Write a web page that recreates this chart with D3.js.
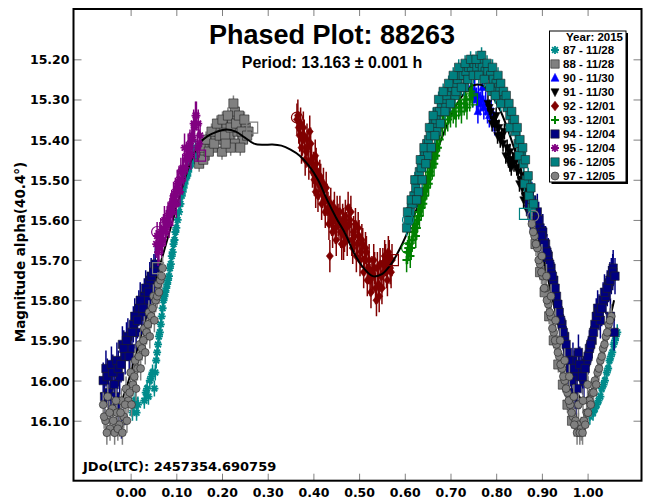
<!DOCTYPE html>
<html lang="en">
<head>
<meta charset="UTF-8">
<title>Phased Plot: 88263</title>
<script src="https://d3js.org/d3.v7.min.js"></script>
<style>
  body { margin: 0; background: #fff; }
  .axis text { font-family: "DejaVu Sans", sans-serif; font-weight: bold; font-size: 12.5px; fill: #000; }
  .axis line { stroke: #808080; }
  .legend_text { font-family: "Liberation Sans", Arial, sans-serif; font-weight: bold; font-size: 11.5px; }
</style>
</head>
<body>
<svg width="648" height="500"></svg>
<script>
// ---- data: [phase, magnitude] ----
const s87 = [[0.004,16.08],[0.010,16.05],[0.016,16.06],[0.030,16.05],[0.036,16.02],[0.042,16.00],[0.048,15.98],[0.052,16.02],
  [0.056,15.95],[0.060,15.91],[0.064,15.88],[0.068,15.84],[0.072,15.80],[0.076,15.78],[0.080,15.76],[0.084,15.74],[0.088,15.71],
  [0.092,15.68],[0.096,15.65],[0.100,15.62],[0.106,15.58],[0.112,15.54],[0.116,15.52],[0.120,15.50],[0.124,15.49],[0.128,15.47],
  [0.132,15.46],[0.136,15.45],[0.140,15.44],[0.144,15.43],[0.148,15.43],
  [1.005,16.09],[1.012,16.08],[1.020,16.06],[1.028,16.04],[1.035,16.01],[1.042,15.98],[1.048,15.95],[1.054,15.93],[1.060,15.90],[1.065,15.88]];
const s87b = [[0.007,16.06],[0.013,16.08],[0.033,16.03],[0.039,16.04],[0.045,15.99],[0.054,15.98],[0.058,15.93],[0.062,15.89],
  [0.066,15.86],[0.070,15.82],[0.074,15.79],[0.078,15.77],[0.082,15.75],[0.086,15.72],[0.090,15.69],[0.094,15.66],[0.098,15.63],
  [0.103,15.60],[0.109,15.56],[0.114,15.53],[0.118,15.51],[0.122,15.49],[0.126,15.48],[0.130,15.46],[0.134,15.45],[0.138,15.44],
  [0.142,15.42],[1.008,16.07],[1.016,16.07],[1.024,16.05],[1.031,16.02],[1.038,16.00],[1.045,15.97],[1.051,15.94],[1.057,15.91],[1.062,15.89]];
const s88 = [[0.150,15.46],[0.156,15.43],[0.162,15.44],[0.168,15.41],[0.174,15.40],[0.180,15.42],[0.186,15.39],[0.192,15.38],
  [0.198,15.40],[0.204,15.37],[0.210,15.36],[0.216,15.39],[0.222,15.35],[0.228,15.33],[0.234,15.38],[0.240,15.36],[0.246,15.40],
  [0.252,15.37],[0.258,15.38],[0.228,15.41],[0.240,15.42],[0.200,15.43],
  [0.886,15.66],[0.896,15.73],[0.906,15.78],[0.916,15.84],[0.926,15.90],[0.936,15.96],[0.946,16.01],[0.956,16.06],[0.966,16.10]];
const s88b = [[0.153,15.42],[0.159,15.45],[0.165,15.40],[0.171,15.43],[0.177,15.38],[0.183,15.41],[0.189,15.36],[0.195,15.39],
  [0.201,15.35],[0.207,15.39],[0.213,15.34],[0.219,15.37],[0.225,15.31],[0.231,15.36],[0.237,15.34],[0.243,15.38],[0.249,15.35],
  [0.255,15.39],[0.219,15.42],[0.208,15.41]];
const s90 = [[0.745,15.27],[0.749,15.29],[0.753,15.28],[0.757,15.30],[0.761,15.29],[0.765,15.31],[0.769,15.30],[0.773,15.32],
  [0.777,15.31],[0.781,15.33],[0.785,15.34],[0.789,15.33],[0.793,15.35],[0.797,15.36],[0.760,15.33],[0.770,15.27]];
const s91 = [[0.782,15.31],[0.788,15.33],[0.794,15.35],[0.800,15.34],[0.806,15.37],[0.812,15.39],[0.818,15.38],[0.824,15.42],
  [0.830,15.43],[0.836,15.45],[0.842,15.44],[0.848,15.48],[0.854,15.50],[0.860,15.49],[0.866,15.53],[0.872,15.55],[0.878,15.57],
  [0.884,15.60],[0.890,15.62],[0.896,15.65],[0.815,15.41],[0.845,15.47],[0.870,15.58]];
const s91b = [[0.785,15.32],[0.791,15.36],[0.797,15.36],[0.803,15.39],[0.809,15.40],[0.821,15.44],[0.827,15.45],[0.833,15.47],
  [0.839,15.46],[0.851,15.51],[0.857,15.52],[0.863,15.54],[0.869,15.57],[0.875,15.59],[0.881,15.62],[0.887,15.64],[0.893,15.67],
  [0.800,15.36],[0.830,15.46],[0.860,15.55]];
const s92 = [[0.364,15.35],[0.368,15.37],[0.372,15.36],[0.376,15.40],[0.380,15.39],[0.384,15.43],[0.388,15.42],[0.392,15.38],
  [0.396,15.45],[0.400,15.47],[0.404,15.44],[0.408,15.48],[0.412,15.51],[0.416,15.50],[0.420,15.53],[0.424,15.55],[0.428,15.52],
  [0.432,15.57],[0.436,15.58],[0.440,15.60],[0.444,15.59],[0.448,15.62],[0.452,15.58],[0.456,15.61],[0.460,15.63],[0.464,15.60],
  [0.468,15.64],[0.472,15.62],[0.476,15.57],[0.480,15.60],[0.484,15.65],[0.488,15.63],[0.492,15.61],[0.496,15.66],[0.500,15.64],
  [0.504,15.68],[0.508,15.66],[0.512,15.70],[0.516,15.68],[0.520,15.72],[0.524,15.75],[0.528,15.73],[0.532,15.70],[0.536,15.77],
  [0.540,15.72],[0.544,15.79],[0.548,15.74],[0.552,15.71],[0.556,15.69],[0.560,15.73],[0.564,15.68],[0.568,15.72],[0.572,15.70],
  [0.405,15.53],[0.436,15.69],[0.466,15.66]];
const s92b = [[0.366,15.34],[0.370,15.39],[0.374,15.42],[0.378,15.37],[0.382,15.45],[0.386,15.40],[0.390,15.46],[0.394,15.41],
  [0.398,15.48],[0.402,15.50],[0.406,15.46],[0.410,15.54],[0.414,15.49],[0.418,15.56],[0.422,15.51],[0.426,15.58],[0.430,15.55],
  [0.434,15.61],[0.438,15.56],[0.442,15.63],[0.446,15.57],[0.450,15.65],[0.454,15.60],[0.458,15.58],[0.462,15.66],[0.466,15.61],
  [0.470,15.59],[0.474,15.65],[0.478,15.61],[0.482,15.58],[0.486,15.67],[0.490,15.64],[0.494,15.69],[0.498,15.62],[0.502,15.70],
  [0.506,15.65],[0.510,15.73],[0.514,15.67],[0.518,15.75],[0.522,15.70],[0.526,15.78],[0.530,15.74],[0.534,15.72],[0.538,15.80],
  [0.542,15.76],[0.546,15.71],[0.550,15.77],[0.554,15.73],[0.558,15.70],[0.562,15.75],[0.566,15.69],[0.570,15.73]];
const s93 = [[0.604,15.70],[0.608,15.67],[0.612,15.69],[0.616,15.65],[0.620,15.63],[0.624,15.64],[0.628,15.60],[0.632,15.59],
  [0.636,15.57],[0.640,15.56],[0.644,15.54],[0.648,15.52],[0.652,15.51],[0.656,15.49],[0.660,15.47],[0.664,15.46],[0.668,15.44],
  [0.672,15.42],[0.676,15.40],[0.682,15.37],[0.688,15.36],[0.694,15.35],[0.700,15.34],[0.706,15.33],[0.712,15.34],[0.718,15.32],
  [0.724,15.33],[0.730,15.31],[0.736,15.32],[0.742,15.30],[0.748,15.29],[0.680,15.31]];
const s93b = [[0.606,15.68],[0.610,15.66],[0.614,15.67],[0.618,15.62],[0.622,15.61],[0.626,15.62],[0.630,15.58],[0.634,15.56],
  [0.638,15.55],[0.642,15.53],[0.646,15.51],[0.650,15.50],[0.654,15.48],[0.658,15.46],[0.662,15.44],[0.666,15.43],[0.670,15.41],
  [0.685,15.34],[0.697,15.33],[0.709,15.32],[0.721,15.31],[0.733,15.30],[0.745,15.28]];
const s94 = [[-0.060,16.00],[-0.054,15.97],[-0.048,16.03],[-0.042,15.96],[-0.036,16.01],[-0.030,15.95],[-0.024,15.99],[-0.018,15.91],
  [-0.012,15.94],[-0.006,15.89],[0.000,15.92],[0.006,15.86],[0.012,15.88],[0.018,15.82],[0.024,15.84],[0.030,15.79],[0.036,15.80],
  [0.042,15.75],[0.048,15.77],[0.054,15.71],[0.060,15.72],[-0.020,16.10],[-0.030,16.06],
  [0.872,15.56],[0.878,15.55],[0.884,15.59],[0.890,15.58],[0.896,15.62],[0.902,15.63],[0.908,15.66],[0.914,15.69],[0.920,15.72],
  [0.926,15.75],[0.932,15.79],[0.938,15.83],[0.944,15.86],[0.950,15.89],[0.956,15.93],[0.962,15.97],[0.968,15.95],[0.974,15.99],
  [0.980,15.93],[0.986,15.97],[0.992,16.00],[0.998,15.95],[1.004,15.92],[1.010,15.90],[1.016,15.86],[1.022,15.82],[1.028,15.85],
  [1.034,15.80],[1.040,15.79],[1.046,15.76],[1.052,15.74],[1.056,15.72],[1.058,15.88],[1.050,15.84],[0.960,16.03],[0.975,16.06]];
const s94b = [[-0.057,16.04],[-0.051,15.99],[-0.045,16.05],[-0.039,15.98],[-0.033,16.04],[-0.027,15.97],[-0.021,15.96],[-0.015,15.92],
  [-0.009,15.90],[-0.003,15.94],[0.003,15.88],[0.009,15.84],[0.015,15.85],[0.021,15.80],[0.027,15.82],[0.033,15.77],[0.039,15.78],
  [0.045,15.74],[0.051,15.73],
  [0.875,15.58],[0.881,15.57],[0.887,15.61],[0.893,15.60],[0.899,15.64],[0.905,15.66],[0.911,15.68],[0.917,15.71],[0.923,15.74],
  [0.929,15.77],[0.935,15.81],[0.941,15.85],[0.947,15.88],[0.953,15.91],[0.959,15.95],[0.965,16.00],[0.971,15.97],[0.977,16.02],
  [0.983,15.96],[0.989,15.99],[0.995,15.97],[1.001,15.94],[1.007,15.91],[1.013,15.88],[1.019,15.84],[1.025,15.83],[1.031,15.82],
  [1.037,15.78],[1.043,15.77],[1.049,15.75],[1.055,15.73],[1.060,15.74]];
const s95 = [[0.056,15.66],[0.060,15.68],[0.064,15.64],[0.068,15.66],[0.072,15.62],[0.076,15.63],[0.080,15.60],[0.084,15.61],
  [0.088,15.57],[0.092,15.58],[0.096,15.55],[0.100,15.56],[0.104,15.52],[0.108,15.53],[0.112,15.50],[0.116,15.48],[0.120,15.47],
  [0.124,15.45],[0.128,15.43],[0.132,15.44],[0.136,15.40],[0.140,15.37],[0.144,15.34],[0.148,15.36],[0.152,15.39],[0.146,15.42],[0.118,15.42]];
const s95b = [[0.058,15.64],[0.062,15.67],[0.066,15.63],[0.070,15.65],[0.074,15.60],[0.078,15.61],[0.082,15.59],[0.086,15.58],
  [0.090,15.56],[0.094,15.54],[0.098,15.53],[0.102,15.51],[0.106,15.50],[0.110,15.48],[0.114,15.47],[0.122,15.44],[0.126,15.42],
  [0.130,15.41],[0.134,15.39],[0.138,15.36],[0.142,15.34],[0.150,15.41]];
const s96 = [[0.604,15.62],[0.608,15.60],[0.612,15.58],[0.616,15.56],[0.620,15.54],[0.624,15.52],[0.628,15.50],[0.632,15.48],
  [0.636,15.47],[0.640,15.45],[0.644,15.43],[0.648,15.41],[0.652,15.40],[0.656,15.39],[0.660,15.37],[0.664,15.36],[0.668,15.35],
  [0.672,15.33],[0.676,15.33],[0.680,15.31],[0.686,15.30],[0.692,15.29],[0.698,15.28],[0.704,15.27],[0.710,15.26],[0.716,15.25],
  [0.722,15.24],[0.728,15.24],[0.734,15.23],[0.740,15.22],[0.746,15.22],[0.752,15.21],[0.758,15.22],[0.764,15.21],[0.770,15.22],
  [0.776,15.23],[0.782,15.23],[0.788,15.24],[0.794,15.25],[0.800,15.26],[0.806,15.27],[0.812,15.29],[0.818,15.30],[0.824,15.32],
  [0.830,15.34],[0.836,15.36],[0.842,15.38],[0.848,15.41],[0.854,15.43],[0.860,15.46],[0.866,15.50],[0.872,15.54],[0.878,15.57],
  [0.630,15.53],[0.650,15.44],[0.670,15.38],[0.690,15.32],[0.710,15.29],[0.730,15.27],[0.790,15.28],[0.810,15.31],[0.830,15.37],
  [0.850,15.44],[0.862,15.51]];
const s96b = [[0.606,15.58],[0.614,15.55],[0.622,15.50],[0.626,15.55],[0.634,15.45],[0.638,15.50],[0.642,15.42],[0.646,15.46],
  [0.654,15.37],[0.658,15.42],[0.662,15.34],[0.666,15.39],[0.674,15.30],[0.678,15.36],[0.684,15.28],[0.688,15.33],[0.696,15.26],
  [0.700,15.31],[0.706,15.24],[0.712,15.28],[0.718,15.22],[0.724,15.27],[0.732,15.21],[0.738,15.25],[0.744,15.20],[0.750,15.24],
  [0.756,15.20],[0.762,15.24],[0.768,15.19],[0.774,15.25],[0.780,15.21],[0.786,15.27],[0.792,15.22],[0.798,15.29],[0.804,15.24],
  [0.810,15.26],[0.816,15.28],[0.822,15.29],[0.828,15.31],[0.834,15.33],[0.840,15.35],[0.846,15.37],[0.852,15.40],[0.858,15.42],
  [0.864,15.45],[0.870,15.49],[0.876,15.52],[0.882,15.56]];
const s97 = [[-0.060,16.06],[-0.055,16.10],[-0.050,16.04],[-0.045,16.12],[-0.040,16.07],[-0.035,16.13],[-0.030,16.08],[-0.025,16.11],
  [-0.020,16.05],[-0.015,16.09],[-0.010,16.02],[-0.005,16.05],[0.000,15.98],[0.005,16.01],[0.010,15.95],[0.015,15.97],[0.020,15.91],
  [0.025,15.92],[0.030,15.87],[0.035,15.88],[0.040,15.83],[0.045,15.84],[0.050,15.79],[0.055,15.80],[0.060,15.76],[0.065,15.75],[0.070,15.72],
  [0.878,15.61],[0.884,15.64],[0.890,15.67],[0.896,15.71],[0.902,15.74],[0.908,15.77],[0.914,15.81],[0.920,15.84],[0.926,15.88],
  [0.932,15.91],[0.938,15.94],[0.944,15.97],[0.950,16.00],[0.956,16.03],[0.962,16.06],[0.968,16.09],[0.974,16.10],[0.980,16.11],
  [0.986,16.12],[0.992,16.10],[0.998,16.08],[1.004,16.05],[1.010,16.03],[1.016,16.00],[1.022,15.98],[1.028,15.95],[1.034,15.92],
  [1.040,15.89],[1.046,15.86],[1.052,15.84]];
const s97b = [[-0.058,16.09],[-0.052,16.13],[-0.046,16.08],[-0.038,16.10],[-0.032,16.05],[-0.028,16.12],[-0.022,16.08],[-0.018,16.13],
  [-0.012,16.06],[-0.008,16.10],[-0.002,16.03],[0.002,16.06],[0.008,15.99],[0.012,16.02],[0.018,15.94],[0.022,15.97],[0.028,15.90],
  [0.032,15.93],[0.038,15.86],[0.042,15.89],[0.048,15.82],[0.052,15.85],[0.058,15.79],[0.062,15.78],[0.068,15.74],
  [0.881,15.63],[0.887,15.66],[0.893,15.70],[0.899,15.73],[0.905,15.77],[0.911,15.80],[0.917,15.83],[0.923,15.87],[0.929,15.90],
  [0.935,15.93],[0.941,15.96],[0.947,15.99],[0.953,16.02],[0.959,16.05],[0.965,16.08],[0.971,16.11],[0.977,16.13],[0.983,16.13],
  [0.989,16.13],[0.995,16.11],[1.001,16.08],[1.007,16.06],[1.013,16.03],[1.019,16.01],[1.025,15.97],[1.031,15.94],[1.037,15.91],
  [1.043,15.88],[1.049,15.85],[0.970,16.04],[0.980,16.06],[0.990,16.05],[1.000,16.01],[0.960,15.99],[0.950,15.95],[0.940,15.90],
  [0.930,15.85],[0.920,15.79],[0.910,15.74],[0.900,15.69]];

const seriesIds    = ["87","88","90","91","92","93","94","95","96","97"];
const seriesLabels = ["87 - 11/28","88 - 11/28","90 - 11/30","91 - 11/30","92 - 12/01","93 - 12/01","94 - 12/04","95 - 12/04","96 - 12/05","97 - 12/05"];
const seriesData   = [s87.concat(s87b), s88.concat(s88b), s90, s91.concat(s91b), s92.concat(s92b),
                      s93.concat(s93b), s94.concat(s94b), s95.concat(s95b), s96.concat(s96b), s97.concat(s97b)];
const seriesErr    = [0.02, 0.02, 0.03, 0.02, 0.04, 0.03, 0.045, 0.035, 0.02, 0.03];

// fourier fit (phase, mag)
const fitCurve = [[-0.065,16.03],[-0.05,16.06],[-0.03,16.07],[-0.01,16.02],[0.01,15.94],[0.03,15.86],[0.05,15.77],[0.07,15.69],
  [0.09,15.61],[0.11,15.53],[0.13,15.46],[0.15,15.41],[0.17,15.39],[0.19,15.38],[0.21,15.375],[0.23,15.38],[0.25,15.395],
  [0.27,15.41],[0.29,15.413],[0.31,15.412],[0.33,15.415],[0.35,15.425],[0.37,15.44],[0.39,15.465],[0.41,15.50],[0.43,15.55],
  [0.45,15.595],[0.47,15.635],[0.49,15.685],[0.51,15.72],[0.53,15.74],[0.55,15.735],[0.57,15.71],[0.59,15.67],[0.61,15.62],
  [0.63,15.56],[0.65,15.50],[0.67,15.43],[0.69,15.37],[0.71,15.32],[0.73,15.285],[0.75,15.265],[0.77,15.265],[0.79,15.29],
  [0.81,15.33],[0.83,15.39],[0.85,15.46],[0.87,15.54],[0.89,15.63],[0.91,15.73],[0.93,15.83],[0.95,15.93],[0.97,16.01],
  [0.99,16.05],[1.01,16.02],[1.03,15.93],[1.05,15.84],[1.058,15.80]];

// session start / end markers (series, shape, phase, mag)
const openMarks = [["92","circ",0.364,15.345],["92","sq",0.574,15.70],["88","sq",0.266,15.37],["88","sq",0.060,15.72],
  ["95","sq",0.152,15.44],["95","circ",0.058,15.63],["96","circ",0.607,15.60],["93","circ",0.605,15.67],
  ["97","circ",0.881,15.59],["96","sq",0.863,15.585],["93","sq",0.747,15.30]];

const xTicks = [0,0.1,0.2,0.3,0.4,0.5,0.6,0.7,0.8,0.9,1.0];
const yTicks = [15.2,15.3,15.4,15.5,15.6,15.7,15.8,15.9,16.0,16.1];

// ---- styles ----
const style = {
  "87": {shape:"ast",    color:"#008b8b", r:4.0},
  "88": {shape:"sq",     color:"#808080", r:4.6},
  "90": {shape:"tri",    color:"#0000ff", r:3.8},
  "91": {shape:"tridown",color:"#000000", r:3.8},
  "92": {shape:"dia",    color:"#800000", r:3.7},
  "93": {shape:"plus",   color:"#008000", r:4.2},
  "94": {shape:"sq",     color:"#000080", r:4.2},
  "95": {shape:"ast",    color:"#800080", r:4.0},
  "96": {shape:"sq",     color:"#008080", r:4.2},
  "97": {shape:"circ",   color:"#808080", r:3.9}
};

function shapePath(shape, r) {
  const a = r * 0.72;
  switch (shape) {
    case "sq": return `M${-r},${-r}h${2*r}v${2*r}h${-2*r}Z`;
    case "circ": return `M${r},0A${r},${r} 0 1,1 ${-r},0A${r},${r} 0 1,1 ${r},0Z`;
    case "tri": return `M0,${-r*1.15}L${r},${r*0.8}L${-r},${r*0.8}Z`;
    case "tridown": return `M0,${r*1.15}L${r},${-r*0.8}L${-r},${-r*0.8}Z`;
    case "dia": return `M0,${-r*1.2}L${r*0.95},0L0,${r*1.2}L${-r*0.95},0Z`;
    case "plus": return `M${-r},0H${r}M0,${-r}V${r}`;
    case "ast": return `M${-r},0H${r}M0,${-r}V${r}M${-a},${-a}L${a},${a}M${-a},${a}L${a},${-a}`;
  }
}
const strokeShape = s => s === "plus" || s === "ast";

function drawMarker(g, shape, r, color) {
  const p = g.append("path").attr("d", shapePath(shape, r));
  if (strokeShape(shape)) p.attr("fill", "none").attr("stroke", color).attr("stroke-width", shape === "plus" ? 2 : 1.8);
  else p.attr("fill", color).attr("stroke", shape === "sq" || shape === "circ" ? "#222" : color).attr("stroke-width", 0.6);
  return p;
}

// ---- layout ----
const svg = d3.select("svg");
const L = 73.5, R = 641.5, T = 9, B = 480.7;

const x = d3.scaleLinear().domain([-0.125, 1.118]).range([L, R]);
const y = d3.scaleLinear().domain([15.0747, 16.2494]).range([T, B]);

svg.append("rect").attr("width", 648).attr("height", 500).attr("fill", "#fff");

svg.append("clipPath").attr("id", "clip")
  .append("rect").attr("x", L).attr("y", T).attr("width", R - L).attr("height", B - T);

const plot = svg.append("g").attr("clip-path", "url(#clip)");

function drawSeries(i) {
  const id = seriesIds[i], st = style[id], e = seriesErr[i];
  const g = plot.append("g").attr("class", "s" + id);
  g.selectAll("line").data(seriesData[i]).enter().append("line")
    .attr("x1", d => x(d[0])).attr("x2", d => x(d[0]))
    .attr("y1", d => y(d[1] - e)).attr("y2", d => y(d[1] + e))
    .attr("stroke", st.color).attr("stroke-width", 1.5);
  seriesData[i].forEach(d => {
    const m = g.append("g").attr("transform", `translate(${x(d[0])},${y(d[1])})`);
    drawMarker(m, st.shape, st.r, st.color);
  });
}

const line = d3.line().x(d => x(d[0])).y(d => y(d[1])).curve(d3.curveCatmullRom);

seriesIds.forEach((id, i) => {
  drawSeries(i);
  if (id === "92") {
    plot.append("path").datum(fitCurve).attr("d", line)
      .attr("fill", "none").attr("stroke", "#000").attr("stroke-width", 2);
  }
});

openMarks.forEach(o => {
  plot.append("path")
    .attr("transform", `translate(${x(o[2])},${y(o[3])})`)
    .attr("d", shapePath(o[1], 5.5))
    .attr("fill", "none").attr("stroke", style[o[0]].color).attr("stroke-width", 1.2);
});

// ---- axes ----
const fmt = d3.format(".2f");
svg.append("g").attr("class", "axis").attr("transform", `translate(${L},0)`)
  .call(d3.axisLeft(y).tickValues(yTicks).tickSize(-8).tickPadding(4).tickFormat(fmt))
  .call(g => g.select(".domain").remove())
  .call(g => g.selectAll("text").attr("dy", "0.36em"));
svg.append("g").attr("class", "axis").attr("transform", `translate(${R},0)`)
  .call(d3.axisRight(y).tickValues(yTicks).tickSize(-8).tickFormat(""))
  .call(g => g.select(".domain").remove());
svg.append("g").attr("class", "axis").attr("transform", `translate(0,${B})`)
  .call(d3.axisBottom(x).tickValues(xTicks).tickSize(-7).tickPadding(7).tickFormat(fmt))
  .call(g => g.select(".domain").remove());
svg.append("g").attr("class", "axis").attr("transform", `translate(0,${T})`)
  .call(d3.axisTop(x).tickValues(xTicks).tickSize(-7).tickFormat(""))
  .call(g => g.select(".domain").remove());

svg.append("rect").attr("x", L).attr("y", T).attr("width", R - L).attr("height", B - T)
  .attr("fill", "none").attr("stroke", "#000").attr("stroke-width", 2);

// ---- text ----
svg.append("text").attr("x", 332).attr("y", 44).attr("text-anchor", "middle")
  .style("font-family", "'Liberation Sans', Arial, sans-serif").style("font-weight", "bold").style("font-size", "27px")
  .text("Phased Plot: 88263");
svg.append("text").attr("x", 332).attr("y", 68).attr("text-anchor", "middle")
  .style("font-family", "'Liberation Sans', Arial, sans-serif").style("font-weight", "bold").style("font-size", "16px")
  .text("Period: 13.163 ± 0.001 h");
svg.append("text").attr("transform", "translate(25,252) rotate(-90)").attr("text-anchor", "middle")
  .style("font-family", "'DejaVu Sans', sans-serif").style("font-weight", "bold").style("font-size", "13.5px")
  .text("Magnitude alpha(40.4°)");
svg.append("text").attr("x", 83).attr("y", 471)
  .style("font-family", "'DejaVu Sans', sans-serif").style("font-weight", "bold").style("font-size", "13px")
  .text("JDo(LTC): 2457354.690759");

// ---- legend ----
const lg = svg.append("g");
lg.append("rect").attr("x", 551.5).attr("y", 33).attr("width", 76.5).attr("height", 151).attr("fill", "#000");
lg.append("rect").attr("x", 549.5).attr("y", 31).attr("width", 76.5).attr("height", 151)
  .attr("fill", "#fff").attr("stroke", "#000").attr("stroke-width", 1);
lg.append("text").attr("class", "legend_text").attr("x", 623).attr("y", 41).attr("text-anchor", "end").text("Year: 2015");
seriesIds.forEach((id, i) => {
  const yy = 50 + i * 14;
  const st = style[id];
  const m = lg.append("g").attr("transform", `translate(555,${yy})`);
  drawMarker(m, st.shape, st.shape === "sq" ? 4.2 : 4, st.color);
  lg.append("text").attr("class", "legend_text").attr("x", 563).attr("y", yy + 4).text(seriesLabels[i]);
});
</script>
</body>
</html>
